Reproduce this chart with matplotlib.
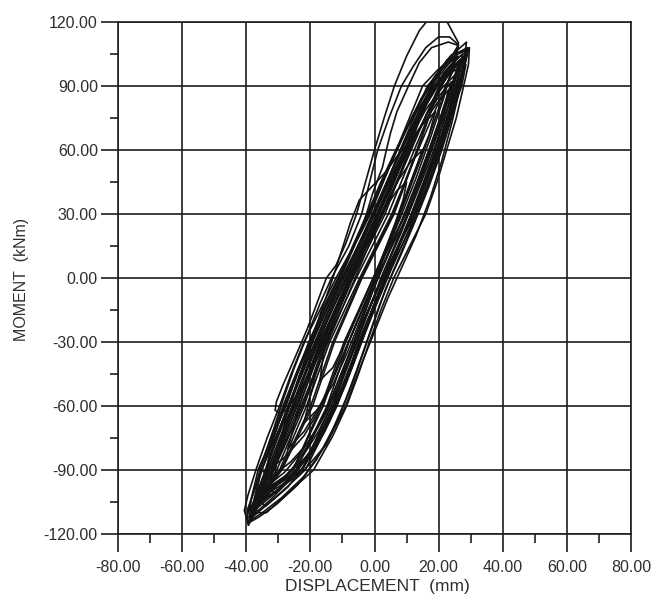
import matplotlib
matplotlib.use("Agg")
import matplotlib.pyplot as plt
from matplotlib.ticker import MultipleLocator, FormatStrFormatter

plt.rcParams['font.family'] = ['Liberation Sans', 'DejaVu Sans']

# axis setup
x_ticks = [-80, -60, -40, -20, 0, 20, 40, 60, 80]
y_ticks = [-120, -90, -60, -30, 0, 30, 60, 90, 120]
x_label = "DISPLACEMENT  (mm)"
y_label = "MOMENT  (kNm)"

# hysteresis trace: (displacement mm, moment kNm)
cycle_01 = [(0, 0), (3, 12), (6.5, 26), (9, 37), (10, 45), (7, 41), (3, 32), (-1, 20), (-5, 7),
            (-9, -7), (-13, -22), (-16, -36), (-17, -48)]
cycle_02 = [(-17, -48), (-13, -42), (-9, -30), (-5, -16), (-1, -2), (3, 12), (7, 27), (10.5, 42),
            (14, 56), (17, 67), (19, 78), (15, 72), (10, 60), (5.5, 45), (1, 30), (-4, 13), (-9, -4),
            (-14, -22), (-19, -41), (-23.5, -60), (-27, -80)]
cycle_03 = [(-27, -80), (-22, -72), (-17, -60), (-12, -44), (-7, -26), (-2, -8), (3, 10), (8, 28),
            (13, 47), (17.5, 66), (21.5, 84), (24.5, 100), (26.2, 110.2), (24, 116.3), (21.5, 123.3),
            (17.2, 121.9), (14, 116), (10, 104), (6.2, 90), (3, 75), (0, 60), (-2.8, 45), (-5.6, 30),
            (-9, 16), (-12, 6), (-15, 0), (-17.5, -10), (-21, -24), (-25, -38), (-28.5, -50),
            (-30.6, -58), (-31, -62), (-29.5, -63.5), (-27.5, -62)]
cycle_04 = [(-27.5, -62), (-23, -52), (-18, -38), (-13, -22), (-8.5, -6), (-4, 10), (0.5, 27),
            (5, 44), (9.5, 61), (14, 77), (18, 90), (21.5, 99), (24.5, 105), (26.2, 109.3),
            (23.4, 113), (20, 113), (16, 108), (12, 99), (8.4, 90), (4.5, 75), (1, 60), (-1.5, 45),
            (-4, 30), (-8, 15), (-13.4, 0), (-17, -12), (-21, -27), (-25, -42), (-28.5, -57),
            (-31.5, -71), (-34.5, -84), (-36, -89), (-34.5, -91), (-33, -90)]
cycle_05 = [(-33, -90), (-28, -84), (-22, -74), (-16.5, -60), (-12, -44), (-7.5, -28), (-3, -12),
            (1.5, 5), (6, 22), (10.5, 40), (15, 58), (19, 75), (22.5, 90), (25, 101), (26.2, 109),
            (23, 110.6), (17.8, 108), (14, 101), (10.6, 90), (7, 78), (5, 68), (3.7, 60), (2.5, 52),
            (-0.5, 40), (-2.5, 30), (-6, 16), (-10, 2), (-14.5, -13), (-19, -29), (-23, -45),
            (-27, -60), (-31, -76), (-34.5, -92), (-37.5, -104), (-38.5, -110)]
cycle_06 = [(-38.5, -110), (-33, -98), (-27, -92), (-20, -82), (-14, -67), (-9, -50), (-4.5, -32),
            (0, -14), (4.5, 3), (9, 20), (13.5, 38), (18, 56), (21.5, 73), (24, 86), (25, 95),
            (21, 89), (16, 79), (11, 65), (6.5, 50), (2, 34), (-3, 17), (-8, 0), (-13, -17),
            (-18, -35), (-23, -53), (-27.5, -70), (-31, -85), (-33, -98)]
cycle_07 = [(-33, -98), (-31, -101), (-24.5, -91), (-18.5, -79), (-13.5, -64), (-9.5, -49),
            (-5.5, -34), (-1.5, -18), (2.5, -2), (7, 14), (11.5, 30), (16, 47), (20, 63), (23.5, 80),
            (26, 94), (27.5, 105), (24, 100), (20, 92), (16, 81), (12, 68), (8, 55), (4, 41),
            (-0.5, 26), (-5, 11), (-9.5, -5), (-14, -21), (-18.5, -38), (-23, -55), (-27, -71),
            (-31, -87), (-34.5, -99), (-37, -108)]
cycle_08 = [(-37, -108), (-31, -98), (-25.5, -89), (-20, -77), (-15, -62), (-11, -47), (-7, -32),
            (-3, -16), (1, 0), (5.5, 16), (10, 32), (14.5, 48), (18.5, 64), (22, 79), (24.8, 91),
            (26.5, 101), (23.5, 96), (20, 88), (16, 76), (12, 62), (8, 48), (3.5, 33), (-1, 18),
            (-5.5, 2), (-10, -14), (-14.5, -30), (-19, -46), (-23.5, -62), (-27.5, -77),
            (-31.5, -90), (-34.5, -99), (-36, -104)]
cycle_09 = [(-36, -104), (-34, -107), (-27, -98), (-21, -86), (-15.5, -72), (-11, -57), (-7, -42),
            (-3, -26), (1, -11), (5.5, 5), (10, 20), (14.5, 36), (18.5, 52), (22, 68), (25, 84),
            (27.5, 98), (28.7, 110.6), (26, 107), (22.5, 102), (19, 94), (15, 82), (11, 69), (7, 56),
            (3, 42), (-1, 28), (-5.5, 13), (-10, -2), (-15, -18), (-19.5, -34), (-24, -50),
            (-28, -66), (-32, -82), (-35.5, -97), (-38.5, -112)]
cycle_10 = [(-38.5, -112), (-32.5, -104), (-26, -94), (-20, -82), (-15, -68), (-10.5, -53),
            (-6.5, -38), (-2.5, -22), (1.5, -7), (6, 9), (10.5, 25), (15, 41), (19, 57), (22.5, 73),
            (25.5, 88), (28, 100), (29, 106), (25.5, 103), (21.5, 96), (17.5, 86), (13.5, 74),
            (9.5, 61), (5, 47), (0.5, 32), (-4, 16), (-8.5, 1), (-13.5, -16), (-18, -32),
            (-22.5, -49), (-26.5, -65), (-30.5, -81), (-34, -95), (-36.5, -104), (-38, -110)]
cycle_11 = [(-38, -110), (-33.7, -110), (-28.4, -102.7), (-19, -90), (-13, -74), (-8.7, -60),
            (-5, -45), (-1.6, -30), (2, -15), (6, 0), (11, 15), (16, 30), (19.5, 45), (22.5, 60),
            (25.5, 75), (27.8, 90), (29.3, 100), (29.6, 108), (27, 106), (24, 104.6), (20.5, 98),
            (17.2, 90.5), (11.5, 75), (7, 60), (2.5, 45), (-1.6, 30), (-6.5, 15), (-12, 0),
            (-17, -15), (-22, -30), (-26, -45), (-29.6, -60), (-33.5, -75), (-37, -90),
            (-39.5, -102), (-40.6, -109), (-39.3, -115.8)]
cycle_12 = [(-39.3, -115.8), (-31, -92), (-26, -86), (-20, -76), (-15, -63), (-10.5, -48), (-6, -32),
            (-2, -16), (2, 0), (6.5, 16), (11, 33), (15.5, 50), (19.5, 67), (22, 79), (23, 88),
            (19.5, 82), (15, 72), (11, 64), (7, 57), (3.7, 50), (-4.7, 36.6), (-7.5, 26), (-10, 14),
            (-13, 0), (-16.5, -15), (-20, -31), (-24, -48), (-27.5, -65), (-30, -80), (-31, -92)]
cycle_13 = [(-31, -92), (-36.5, -106), (-30, -99), (-23, -88), (-17, -75), (-12.5, -60), (-8, -44),
            (-4, -28), (0, -12), (4.5, 4), (9, 20), (13.5, 37), (18, 54), (22, 71), (25, 87),
            (27, 102), (24, 99), (20, 93), (16, 84), (12, 72), (8, 59), (3.5, 44), (-1, 29),
            (-5.5, 14), (-10.5, -2), (-15.5, -19), (-20, -35), (-24.5, -52), (-28.5, -68),
            (-32.5, -84), (-35.5, -97), (-36.5, -106)]
cycle_14 = [(-36.5, -106), (-38, -112), (-31, -103), (-23, -92), (-15, -78), (-9, -60), (-4.5, -42),
            (-0.5, -27), (4, -10), (8.5, 5), (13, 20), (17.5, 38), (21, 55), (24, 72), (26.5, 88),
            (28, 104), (23, 97), (18, 88), (13, 74), (8.5, 60), (4, 45), (0, 31), (-5, 15),
            (-10, 0), (-15, -15), (-20, -30), (-24.5, -46), (-28.5, -62), (-32.5, -78), (-36, -94),
            (-38, -112)]
cycle_15 = [(-38, -112), (-39, -114), (-35, -110), (-29, -103), (-22, -93), (-16, -80), (-11, -65),
            (-7, -50), (-3.5, -35), (0, -20), (3.5, -5), (8, 10), (12.5, 26), (17, 43), (21, 60),
            (24.5, 77), (27.2, 93), (29.3, 107), (26, 105), (22, 100), (18, 92), (13, 79),
            (8.5, 65), (4, 50), (-0.5, 35), (-5, 20), (-10, 4), (-15, -11), (-19.5, -27),
            (-24, -43), (-28, -58), (-32, -74), (-35.5, -89), (-38.5, -104), (-39, -114)]
cycle_16 = [(-39, -114), (-37.5, -109), (-32, -102), (-26, -93), (-20.5, -82), (-15.5, -69),
            (-11, -54), (-7, -39), (-3, -23), (1, -8), (5.5, 8), (10, 24), (14.5, 40), (18.5, 56),
            (22, 72), (25, 87), (27.8, 103), (24.5, 99), (20.5, 92), (16.5, 82), (12.5, 70),
            (8.5, 57), (4, 43), (-0.5, 28), (-5, 13), (-9.5, -2), (-14.5, -18), (-19, -34),
            (-23.5, -51), (-27.5, -67), (-31.5, -83), (-35, -97), (-37.5, -109)]
cycle_17 = [(-37.5, -109), (-33, -97), (-28, -91), (-22.5, -81), (-17, -68), (-12.5, -53),
            (-8.5, -38), (-4.5, -22), (-0.5, -6), (4, 10), (8.5, 27), (13, 44), (17, 60),
            (20.5, 75), (24, 92), (20.5, 86), (16.5, 77), (12.5, 66), (8, 52), (3.5, 37), (-1, 22),
            (-5.5, 7), (-10, -9), (-14.5, -25), (-19, -42), (-23, -58), (-27, -73), (-30.5, -86),
            (-33, -97)]
cycle_18 = [(-33, -97), (-39.5, -115), (-36, -112), (-30.5, -106), (-24, -97), (-18, -85),
            (-13, -71), (-9, -57), (-5.5, -43), (-2, -28), (1.5, -13), (5.5, 2), (10, 18),
            (14.5, 34), (18.5, 50), (22, 66), (25, 82), (27.5, 96), (29, 108), (26.5, 106),
            (23, 102), (19, 95), (14.5, 84), (10, 70), (5.5, 55), (1, 40), (-3.5, 25), (-8, 10),
            (-13, -6), (-17.5, -21), (-22, -37), (-26, -52), (-30, -68), (-33.5, -83), (-37, -98),
            (-39.5, -108), (-39.5, -115)]
cycle_19 = [(-22, -68), (-18, -62), (-13, -50), (-8.5, -35), (-4.5, -20), (-0.5, -4), (3.5, 12),
            (7.5, 28), (11, 43), (15, 60), (11.5, 55), (7.5, 46), (3, 33), (-1.5, 19), (-6, 4),
            (-10.5, -12), (-14.5, -28), (-18.5, -46), (-22, -68)]
cycle_20 = [(-35, -102), (-29, -95), (-23, -85), (-17.5, -72), (-12.5, -57), (-8.5, -42),
            (-4.5, -26), (-0.5, -10), (4, 6), (8.5, 22), (13, 39), (17.5, 56), (21.5, 73),
            (24.5, 88), (26, 98), (22, 95), (18, 89), (14, 80), (10, 70), (6, 58), (2, 45),
            (-2, 31), (-6.5, 16), (-11, 0), (-16, -16), (-20.5, -32), (-25, -48), (-29, -64),
            (-32.5, -80), (-35, -102)]
# later, slimmer cycles running through the middle of the band
cycle_21 = [(-37.5, -108), (-36, -105), (-25.5, -90), (-16, -60), (-9, -30), (-0.3, 0), (9.7, 30),
            (17, 60), (24, 90), (26.5, 102), (25, 100), (20.8, 90), (12.4, 60), (4.3, 30),
            (-5.7, 0), (-15, -30), (-22, -60), (-30.5, -90), (-37.5, -108)]
cycle_22 = [(-37, -106), (-29.2, -90), (-19.9, -60), (-13, -30), (-4.2, 0), (5.8, 30), (13.2, 60),
            (20.5, 90), (24, 98), (18.3, 90), (10.2, 60), (2.2, 30), (-7.8, 0), (-17, -30),
            (-24.1, -60), (-32.8, -90), (-37, -106)]
cycle_23 = [(-36, -103), (-30, -98), (-22.4, -90), (-12.8, -60), (-6, -30), (2.6, 0), (12.6, 30),
            (19.8, 60), (26.6, 90), (28.5, 104), (25.5, 100), (22.2, 90), (13.6, 60), (5.4, 30),
            (-4.6, 0), (-14, -30), (-21.2, -60), (-29.6, -90), (-34, -98), (-36, -103)]
cycle_24 = [(-38, -109), (-31, -98), (-24.5, -90), (-14.8, -60), (-8, -30), (0.5, 0), (10.5, 30),
            (17.6, 60), (24.1, 90), (27, 101), (23, 96), (18.7, 90), (9.8, 60), (1.5, 30),
            (-8.5, 0), (-18, -30), (-25.3, -60), (-33.5, -90), (-36.5, -100), (-38, -109)]
cycle_25 = [(-34, -100), (-25.4, -90), (-16.6, -60), (-9.5, -30), (-0.4, 0), (9.7, 30), (17.5, 60),
            (25.6, 90), (28.5, 100), (27.2, 90), (19.9, 60), (12.4, 30), (2.4, 0), (-6.5, -30),
            (-13.4, -60), (-22.7, -90), (-34, -100)]
cycle_26 = [(-39.5, -110), (-31.8, -90), (-22.4, -60), (-15.5, -30), (-6.8, 0), (3.3, 30),
            (10.7, 60), (17.7, 90), (25, 104), (20, 98), (15, 90), (6.8, 60), (-1.3, 30),
            (-11.3, 0), (-20.5, -30), (-27.6, -60), (-36.3, -90), (-39.5, -110)]
cycle_27 = [(-39, -112), (-34, -100), (-28.9, -90), (-19.3, -60), (-12.5, -30), (-3.9, 0), (6.1, 30),
            (13.4, 60), (20.3, 90), (26, 104), (21, 98), (16.5, 90), (8, 60), (-0.2, 30),
            (-10.2, 0), (-19.5, -30), (-26.7, -60), (-35.2, -90), (-39, -112)]
cycle_28 = [(-37, -107), (-30, -99), (-21.6, -90), (-11.7, -60), (-5, -30), (3.4, 0), (13.4, 30),
            (20.3, 60), (26.6, 90), (28.8, 105), (25, 100), (20.2, 90), (11.1, 60), (2.6, 30),
            (-7.4, 0), (-17, -30), (-24.3, -60), (-32.4, -90), (-35.5, -99), (-37, -107)]

cycles = [cycle_01, cycle_02, cycle_03, cycle_04, cycle_05, cycle_06, cycle_07,
          cycle_08, cycle_09, cycle_10, cycle_11, cycle_12, cycle_13, cycle_14,
          cycle_15, cycle_16, cycle_17, cycle_18, cycle_19, cycle_20, cycle_21,
          cycle_22, cycle_23, cycle_24, cycle_25, cycle_26, cycle_27, cycle_28]


def main():
    fig = plt.figure(figsize=(6.54, 5.95), dpi=100)
    ax = fig.add_axes([118 / 654, 1 - 534 / 595, 513 / 654, 512 / 595])

    for cyc in cycles:
        d = [p[0] for p in cyc]
        m = [p[1] for p in cyc]
        ax.plot(d, m, color='#111412', lw=1.2, solid_joinstyle='round')

    ax.set_xlim(x_ticks[0], x_ticks[-1])
    ax.set_ylim(y_ticks[0], y_ticks[-1])
    ax.set_xticks(x_ticks)
    ax.set_yticks(y_ticks)
    ax.xaxis.set_minor_locator(MultipleLocator(10))
    ax.yaxis.set_minor_locator(MultipleLocator(15))
    ax.xaxis.set_major_formatter(FormatStrFormatter('%.2f'))
    ax.yaxis.set_major_formatter(FormatStrFormatter('%.2f'))

    ax.grid(True, which='major', color='#1e1e1e', lw=1.2)
    for s in ax.spines.values():
        s.set_color('#1e1e1e')
        s.set_linewidth(1.2)

    ax.tick_params(which='both', direction='out', color='#1e1e1e', width=1.2,
                   labelsize=11.5, labelcolor='#2e2e2e')
    ax.tick_params(axis='x', which='major', length=13, pad=6)
    ax.tick_params(axis='x', which='minor', length=6.5)
    ax.tick_params(axis='y', which='major', length=12.5, pad=2)
    ax.tick_params(axis='y', which='minor', length=6)

    ax.set_xlabel(x_label, fontsize=12.5, color='#2e2e2e', va='center')
    ax.set_ylabel(y_label, fontsize=11.5, color='#2e2e2e', va='center')
    ax.xaxis.set_label_coords((377 - 118) / 513, -(587 - 534) / 512)
    ax.yaxis.set_label_coords(-(118 - 22) / 513, (534 - 279) / 512)

    fig.savefig("out.png", dpi=100, facecolor='white')
    plt.close(fig)


if __name__ == "__main__":
    main()
